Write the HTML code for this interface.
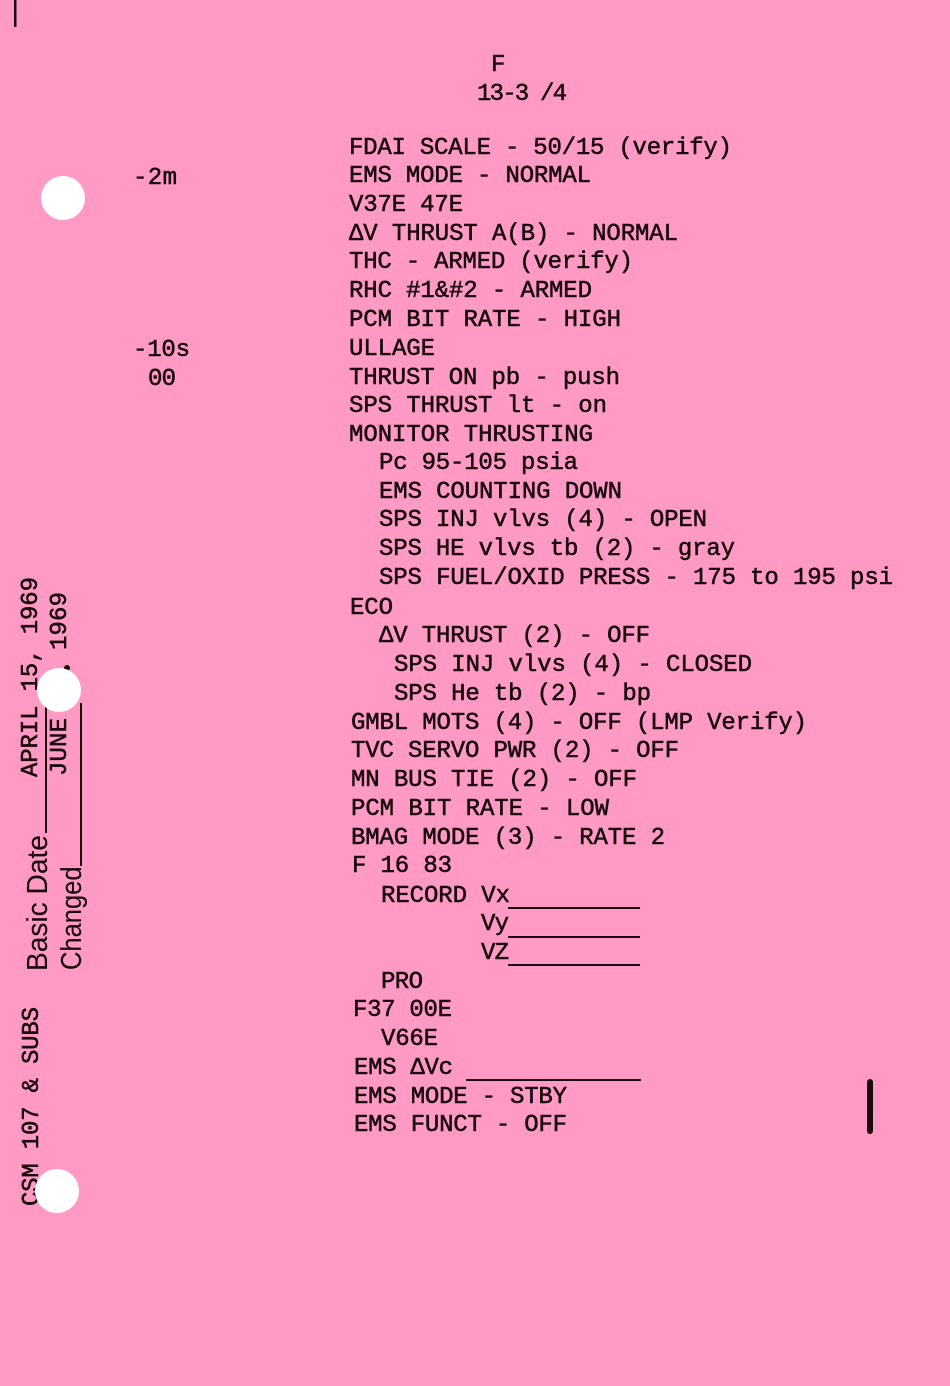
<!DOCTYPE html>
<html><head><meta charset="utf-8"><style>
html,body{margin:0;padding:0;background:#ff9ac4}
svg{display:block}
text{font-family:"Liberation Mono","DejaVu Sans Mono",monospace;font-size:24px;fill:#1a0a12;stroke:#1a0a12;stroke-width:.55px;white-space:pre}
.s{font-family:"Liberation Sans",sans-serif;font-size:29px;stroke-width:.1px}
</style></head><body>
<svg width="950" height="1386" viewBox="0 0 950 1386" xmlns="http://www.w3.org/2000/svg">
<rect width="950" height="1386" fill="#ff9ac4"/>
<g transform="translate(0 -1)">
<text x="491" y="72">F</text>
<text x="477" y="101" textLength="90">13-3 /4</text>
<text x="133" y="185" textLength="44">-2m</text>
<text x="133" y="357" textLength="57">-10s</text>
<text x="148" y="386" textLength="28">00</text>
<text x="349" y="155" textLength="383">FDAI SCALE - 50/15 (verify)</text>
<text x="349" y="183" textLength="242">EMS MODE - NORMAL</text>
<text x="349" y="212" textLength="114">V37E 47E</text>
<text x="349" y="241" textLength="329">ΔV THRUST A(B) - NORMAL</text>
<text x="349" y="269" textLength="284">THC - ARMED (verify)</text>
<text x="349" y="298" textLength="243">RHC #1&amp;#2 - ARMED</text>
<text x="349" y="327" textLength="272">PCM BIT RATE - HIGH</text>
<text x="349" y="356" textLength="86">ULLAGE</text>
<text x="349" y="385" textLength="271">THRUST ON pb - push</text>
<text x="349" y="413" textLength="258">SPS THRUST lt - on</text>
<text x="349" y="442" textLength="244">MONITOR THRUSTING</text>
<text x="379" y="470" textLength="199">Pc 95-105 psia</text>
<text x="379" y="499" textLength="243">EMS COUNTING DOWN</text>
<text x="379" y="527" textLength="328">SPS INJ vlvs (4) - OPEN</text>
<text x="379" y="556" textLength="356">SPS HE vlvs tb (2) - gray</text>
<text x="379" y="585" textLength="514">SPS FUEL/OXID PRESS - 175 to 195 psi</text>
<text x="350" y="615" textLength="43">ECO</text>
<text x="379" y="643" textLength="271">ΔV THRUST (2) - OFF</text>
<text x="394" y="672" textLength="358">SPS INJ vlvs (4) - CLOSED</text>
<text x="394" y="701" textLength="257">SPS He tb (2) - bp</text>
<text x="351" y="730" textLength="456">GMBL MOTS (4) - OFF (LMP Verify)</text>
<text x="351" y="758" textLength="328">TVC SERVO PWR (2) - OFF</text>
<text x="351" y="787" textLength="286">MN BUS TIE (2) - OFF</text>
<text x="351" y="816" textLength="258">PCM BIT RATE - LOW</text>
<text x="351" y="845" textLength="314">BMAG MODE (3) - RATE 2</text>
<text x="352" y="873" textLength="100">F 16 83</text>
<text x="381" y="903" textLength="129">RECORD Vx</text>
<text x="481" y="931" textLength="28">Vy</text>
<text x="481" y="960" textLength="28">VZ</text>
<text x="381" y="989" textLength="42">PRO</text>
<text x="353" y="1017" textLength="99">F37 00E</text>
<text x="381" y="1046" textLength="57">V66E</text>
<text x="354" y="1075" textLength="99">EMS ΔVc</text>
<text x="354" y="1104" textLength="213">EMS MODE - STBY</text>
<text x="354" y="1132" textLength="213">EMS FUNCT - OFF</text>
</g>
<g fill="#1a0a12">
<rect x="508" y="907" width="132" height="2"/>
<rect x="508" y="936" width="132" height="2"/>
<rect x="508" y="964" width="132" height="2"/>
<rect x="466" y="1079" width="175" height="2"/>
<rect x="14" y="0" width="2.5" height="27"/>
<rect x="867" y="1079" width="6" height="55" rx="3"/>
<rect x="45" y="705" width="2" height="128"/>
<rect x="80" y="703" width="2" height="163"/>
<circle cx="67" cy="668" r="3"/>
</g>
<text transform="translate(37 777) rotate(-90)" textLength="200">APRIL 15, 1969</text>
<text transform="translate(66 776) rotate(-90)" textLength="58">JUNE</text>
<text transform="translate(66 650) rotate(-90)" textLength="58">1969</text>
<text transform="translate(38 1206) rotate(-90)" textLength="199">CSM 107 &amp; SUBS</text>
<text class="s" transform="translate(47 971) rotate(-90) scale(.97 1)">Basic Date</text>
<text class="s" transform="translate(81 970) rotate(-90) scale(.88 1)">Changed</text>
<circle cx="63" cy="198" r="22" fill="#fff"/>
<circle cx="59" cy="690" r="22" fill="#fff"/>
<circle cx="57" cy="1191" r="22" fill="#fff"/>
</svg>
</body></html>
